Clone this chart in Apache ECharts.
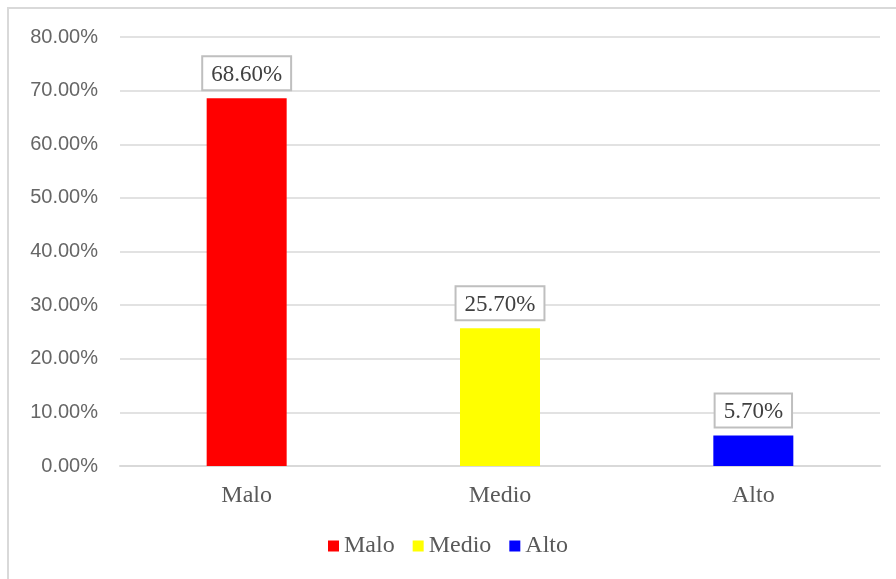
<!DOCTYPE html>
<html>
<head>
<meta charset="utf-8">
<script src="https://cdn.jsdelivr.net/npm/echarts@6/dist/echarts.min.js"></script>
<style>
html,body{margin:0;padding:0;background:#fff;}
#frame{position:absolute;left:7px;top:7px;width:900px;height:600px;border:2px solid #d9d9d9;box-sizing:border-box;}
#chart{position:absolute;left:0;top:0;width:896px;height:579px;}
</style>
</head>
<body>
<div id="frame"></div>
<div id="chart"></div>
<script>
var categories = ['Malo', 'Medio', 'Alto'];
var values = [68.6, 25.7, 5.7];
var colors = ['#ff0000', '#ffff00', '#0000ff'];
var yTicks = [0, 10, 20, 30, 40, 50, 60, 70, 80];

var chart = echarts.init(document.getElementById('chart'), null, {renderer: 'canvas'});
var series = categories.map(function (name, i) {
  return {
    name: name,
    type: 'bar',
    stack: 'all',
    barWidth: 80,
    itemStyle: {color: colors[i]},
    data: categories.map(function (c, j) { return j === i ? values[i] : null; }),
    label: {
      show: true,
      position: 'top',
      distance: 9,
      formatter: function (p) { return p.value.toFixed(2) + '%'; },
      fontFamily: 'Liberation Serif',
      fontSize: 23,
      color: '#404040',
      borderColor: '#bfbfbf',
      borderWidth: 2,
      padding: [6, 8, 3, 8],
      backgroundColor: '#fff'
    }
  };
});

chart.setOption({
  animation: false,
  backgroundColor: 'transparent',
  grid: {left: 120, right: 16, top: 37, bottom: 113, containLabel: false},
  legend: {
    data: categories,
    bottom: 16,
    left: 'center',
    itemWidth: 11,
    itemHeight: 11,
    itemGap: 18,
    icon: 'rect',
    textStyle: {fontFamily: 'Liberation Serif', fontSize: 24, color: '#595959', padding: [0, 0, 0, 0]}
  },
  xAxis: {
    type: 'category',
    data: categories,
    axisLine: {lineStyle: {color: '#d9d9d9', width: 2}},
    axisTick: {show: false},
    axisLabel: {fontFamily: 'Liberation Serif', fontSize: 24, color: '#595959', margin: 18}
  },
  yAxis: {
    type: 'value',
    min: yTicks[0],
    max: yTicks[yTicks.length - 1],
    interval: 10,
    axisLine: {show: false},
    axisTick: {show: false},
    splitLine: {lineStyle: {color: '#d9d9d9', width: 1.5}},
    axisLabel: {
      fontFamily: 'Liberation Sans',
      fontSize: 20,
      color: '#666666',
      margin: 22,
      formatter: function (v) { return v.toFixed(2) + '%'; }
    }
  },
  series: series
});
</script>
</body>
</html>
